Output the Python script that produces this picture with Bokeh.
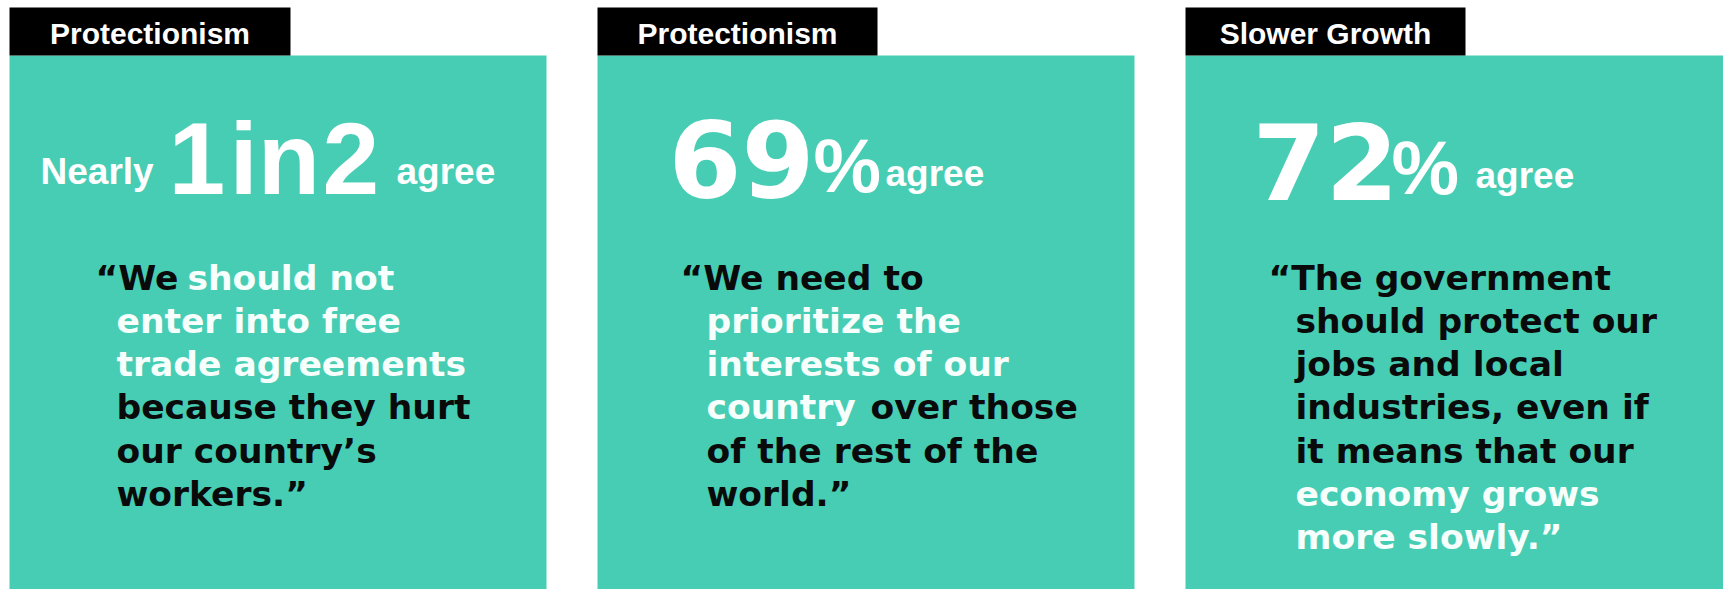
from bokeh.plotting import figure
from bokeh.models import Range1d
from bokeh.core.properties import value
from bokeh.embed import file_html
from bokeh.resources import INLINE

# ---------------- data ----------------
tab_labels = ["Protectionism", "Protectionism", "Slower Growth"]

# headline pieces: (text, style)
headline_1 = [("Nearly", "small"), ("1", "num1"), ("in", "num1"), ("2", "num1"), ("agree", "small")]
headline_2 = [("69", "big"), ("%", "pct"), ("agree", "small")]
headline_3 = [("72", "big"), ("%", "pct"), ("agree", "small")]
headlines = [headline_1, headline_2, headline_3]

# quote lines: list of segments (text, highlighted-in-white)
quote_1 = [
    [("\u201cWe ", False), ("should not", True)],
    [("enter into free", True)],
    [("trade agreements", True)],
    [("because they hurt", False)],
    [("our country\u2019s", False)],
    [("workers.\u201d", False)],
]
quote_2 = [
    [("\u201cWe need to", False)],
    [("prioritize the", True)],
    [("interests of our", True)],
    [("country", True), ("over those", False)],
    [("of the rest of the", False)],
    [("world.\u201d", False)],
]
quote_3 = [
    [("\u201cThe government", False)],
    [("should protect our", False)],
    [("jobs and local", False)],
    [("industries, even if", False)],
    [("it means that our", False)],
    [("economy grows", True)],
    [("more slowly.\u201d", True)],
]
quotes = [quote_1, quote_2, quote_3]

# ---------------- layout / style ----------------
W, H = 1723, 589
TEAL = "#47CDB4"
BLACK = "#0a0a0a"
WHITE = "#ffffff"
WHITE_Q = "#f7fffc"

box_left = [9, 597, 1185]
box_right = [546, 1134, 1740]
tab_right = [290, 877, 1465]
tab_top, box_top, box_bottom = 7, 55, 620

head_x = [[40, 168, 229, 322, 396], [668, 813, 885], [1252, 1391, 1475]]
head_base = [183, 185, 187]
# style: font, size, vertical correction of the rendered baseline
styles = {
    "small": ("Liberation Sans", "37px", 12),
    "num1": ("Liberation Sans", "102px", 25),
    "big": ("DejaVu Sans", "105px", 26),
    "pct": ("Liberation Sans", "76px", 20),
}

quote_first_x = [95, 680, 1268]
quote_x = [116, 706, 1295]
seg_x = {(0, 0, 1): 187, (1, 3, 1): 870}
quote_base0, quote_step = 283, 43.3
QFONT, QSIZE, QCORR = "DejaVu Sans", "34.5px", 6
TAB_BASE, TAB_CORR = 43, 10

p = figure(width=W, height=H, output_backend="svg", toolbar_location=None,
           x_range=Range1d(0, W), y_range=Range1d(H, 0),
           min_border=0, background_fill_color="white", border_fill_color="white")
p.axis.visible = False
p.grid.visible = False
p.outline_line_color = None

# teal boxes and black tabs
p.quad(left=box_left, right=box_right, top=[box_top] * 3, bottom=[box_bottom] * 3,
       fill_color=TEAL, line_color=None)
p.quad(left=box_left, right=tab_right, top=[tab_top] * 3, bottom=[box_top] * 3,
       fill_color="black", line_color=None)

# tab labels
tab_cx = [(l + r) / 2 for l, r in zip(box_left, tab_right)]
p.text(x=tab_cx, y=[TAB_BASE - TAB_CORR] * 3, text=tab_labels, text_color=WHITE,
       text_font=value("Liberation Sans"), text_font_style="bold",
       text_font_size="30px", text_align="center", text_baseline="alphabetic")

# headlines
for i, parts in enumerate(headlines):
    for j, (t, st) in enumerate(parts):
        font, size, corr = styles[st]
        p.text(x=[head_x[i][j]], y=[head_base[i] - corr], text=[t], text_color=WHITE,
               text_font=value(font), text_font_style="bold", text_font_size=size,
               text_align="left", text_baseline="alphabetic")

# quotes
for i, lines in enumerate(quotes):
    for li, segs in enumerate(lines):
        y = quote_base0 + li * quote_step - QCORR
        for si, (t, hl) in enumerate(segs):
            if si == 0:
                x = quote_first_x[i] if li == 0 else quote_x[i]
            else:
                x = seg_x[(i, li, si)]
            p.text(x=[x], y=[y], text=[t], text_color=WHITE_Q if hl else BLACK,
                   text_font=value(QFONT), text_font_style="bold", text_font_size=QSIZE,
                   text_align="left", text_baseline="alphabetic")

open("out.html", "w").write(file_html(p, INLINE))
